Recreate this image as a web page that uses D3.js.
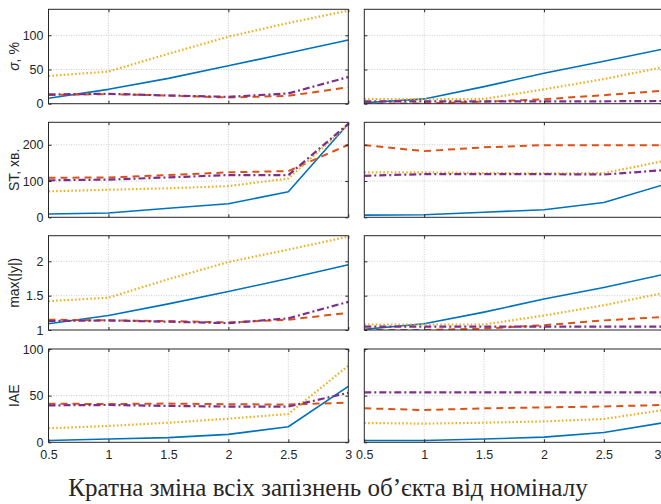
<!DOCTYPE html>
<html><head><meta charset="utf-8">
<script src="https://cdn.jsdelivr.net/npm/d3@7"></script>
<style>
html,body{margin:0;padding:0;background:#fff;overflow:hidden}
text{font-family:"Liberation Sans",Arial,sans-serif;fill:#262626}
</style></head>
<body><svg id="c" width="661" height="504"></svg>
<script>
// ---- data ----
const xVals = [0.5, 1, 1.5, 2, 2.5, 3];
const xTicksTop = [1, 2, 3];
const xTicksBottom = [0.5, 1, 1.5, 2, 2.5, 3];
const xTickLabels = ["0.5", "1", "1.5", "2", "2.5", "3"];
const seriesNames = ["blue", "orange", "yellow", "purple"];

// row 1: sigma, %
const sigmaL_blue   = [8, 21, 37, 55.5, 74, 93];
const sigmaL_orange = [12.7, 14, 12, 9, 11.5, 24];
const sigmaL_yellow = [40.5, 47, 73, 98, 118, 136];
const sigmaL_purple = [13.5, 14.5, 12, 10, 15, 39];
const sigmaR_blue   = [1.5, 7, 25, 44.5, 62, 80];
const sigmaR_orange = [0, 0.5, 3, 6.5, 12.5, 19];
const sigmaR_yellow = [7, 6.5, 7, 21, 36, 53.5];
const sigmaR_purple = [3.5, 3.5, 3.5, 3.5, 3.5, 4];
const sigmaTicks = [0, 50, 100];

// row 2: ST, min
const stL_blue   = [9, 12, 25, 37.5, 70.5, 258];
const stL_orange = [109, 110, 116.5, 124, 127.5, 200];
const stL_yellow = [71.5, 76, 80, 86, 107, 255];
const stL_purple = [102, 104, 110, 116.5, 116, 258];
const stR_blue   = [6, 7, 14, 21, 41, 90];
const stR_orange = [199, 182.5, 193, 199, 199, 199];
const stR_yellow = [124, 124, 122, 121, 122, 155];
const stR_purple = [114.5, 119, 119, 119, 118, 130];
const stTicks = [0, 100, 200];

// row 3: max(|y|)
const maxL_blue   = [1.09, 1.21, 1.38, 1.56, 1.75, 1.95];
const maxL_orange = [1.15, 1.14, 1.13, 1.11, 1.15, 1.25];
const maxL_yellow = [1.42, 1.47, 1.74, 1.99, 2.17, 2.36];
const maxL_purple = [1.13, 1.14, 1.12, 1.10, 1.17, 1.41];
const maxR_blue   = [1.01, 1.09, 1.26, 1.45, 1.62, 1.81];
const maxR_orange = [1.0, 1.0, 1.02, 1.07, 1.14, 1.19];
const maxR_yellow = [1.08, 1.08, 1.08, 1.21, 1.36, 1.54];
const maxR_purple = [1.05, 1.05, 1.05, 1.05, 1.05, 1.05];
const maxTicks = [1, 1.5, 2];

// row 4: IAE
const iaeL_blue   = [2, 3.5, 5, 8.5, 16.7, 60];
const iaeL_orange = [41.4, 41, 41.5, 40.8, 40.5, 42.5];
const iaeL_yellow = [15, 17.5, 21, 25.3, 30.3, 82];
const iaeL_purple = [39.6, 40, 39, 38.3, 38.3, 53];
const iaeR_blue   = [2, 2, 3.5, 5.5, 10.5, 21];
const iaeR_orange = [36.4, 34.6, 36.4, 37.4, 38.4, 40];
const iaeR_yellow = [20.7, 20, 21, 22.4, 25, 34.6];
const iaeR_purple = [53.6, 53.6, 53.6, 53.6, 53.6, 53.6];
const iaeTicks = [0, 50, 100];

const rowLabels = ["σ, %", "ST, хв.", "max(|y|)", "IAE"];
const xAxisTitle = "Кратна зміна всіх запізнень об’єкта від номіналу";

// ---- layout & styles ----
const styles = {
  blue:   {color: "#0072BD", width: 1.6, dash: null},
  orange: {color: "#D95319", width: 2.0, dash: "7,5"},
  yellow: {color: "#EDB120", width: 2.2, dash: "1.6,2.2"},
  purple: {color: "#7E2F8E", width: 2.2, dash: "7,3,2,3"}
};
const rows = [
  {label: rowLabels[0], dom: [0, 138], y: [103.7, 9.3], ticks: sigmaTicks, fmt: d3.format("d"),
   L: [sigmaL_blue, sigmaL_orange, sigmaL_yellow, sigmaL_purple],
   R: [sigmaR_blue, sigmaR_orange, sigmaR_yellow, sigmaR_purple]},
  {label: rowLabels[1], dom: [0, 262], y: [217.3, 122.3], ticks: stTicks, fmt: d3.format("d"),
   L: [stL_blue, stL_orange, stL_yellow, stL_purple],
   R: [stR_blue, stR_orange, stR_yellow, stR_purple]},
  {label: rowLabels[2], dom: [1, 2.373], y: [330, 235.7], ticks: maxTicks, fmt: d => String(d),
   L: [maxL_blue, maxL_orange, maxL_yellow, maxL_purple],
   R: [maxR_blue, maxR_orange, maxR_yellow, maxR_purple]},
  {label: rowLabels[3], dom: [0, 100], y: [442.3, 349], ticks: iaeTicks, fmt: d3.format("d"),
   L: [iaeL_blue, iaeL_orange, iaeL_yellow, iaeL_purple],
   R: [iaeR_blue, iaeR_orange, iaeR_yellow, iaeR_purple]}
];
const cols = [[48.5, 348.3], [364.3, 663.7]];

const svg = d3.select("#c");
const axisColor = "#262626";

rows.forEach((row, ri) => {
  const y = d3.scaleLinear().domain(row.dom).range(row.y);
  const isBottom = ri === rows.length - 1;
  const xt = isBottom ? xTicksBottom : xTicksTop;
  cols.forEach((cr, ci) => {
    const x = d3.scaleLinear().domain([0.5, 3]).range(cr);
    const g = svg.append("g");
    const clipId = `clip${ri}_${ci}`;
    svg.append("clipPath").attr("id", clipId).append("rect")
      .attr("x", cr[0]).attr("y", row.y[1]).attr("width", cr[1] - cr[0]).attr("height", row.y[0] - row.y[1]);
    // grid
    const grid = g.append("g").attr("stroke", "#bdbdbd").attr("stroke-width", 0.8).attr("stroke-dasharray", "1,1.5");
    xt.filter(v => v > 0.5 && v < 3).forEach(v => {
      grid.append("line").attr("x1", x(v)).attr("x2", x(v)).attr("y1", row.y[0]).attr("y2", row.y[1]);
    });
    row.ticks.filter(v => v > row.dom[0] && v < row.dom[1]).forEach(v => {
      grid.append("line").attr("x1", cr[0]).attr("x2", cr[1]).attr("y1", y(v)).attr("y2", y(v));
    });
    // lines
    const lg = g.append("g").attr("clip-path", `url(#${clipId})`);
    const series = ci === 0 ? row.L : row.R;
    series.forEach((vals, si) => {
      const st = styles[seriesNames[si]];
      const line = d3.line().x((d, i) => x(xVals[i])).y(d => y(d));
      lg.append("path").datum(vals).attr("d", line)
        .attr("fill", "none").attr("stroke", st.color).attr("stroke-width", st.width)
        .attr("stroke-linejoin", "round")
        .attr("stroke-dasharray", st.dash);
    });
    // axes (ticks inward)
    const yAxis = d3.axisLeft(y).tickValues(row.ticks).tickSize(-3).tickPadding(5)
      .tickFormat(ci === 0 ? row.fmt : () => "");
    const ya = g.append("g").attr("transform", `translate(${cr[0]},0)`).call(yAxis);
    const yr = g.append("g").attr("transform", `translate(${cr[1]},0)`).call(d3.axisRight(y).tickValues(row.ticks).tickSize(-3).tickFormat(() => ""));
    const xAxis = d3.axisBottom(x).tickValues(xt).tickSize(-3).tickPadding(8)
      .tickFormat(isBottom ? (d => xTickLabels[xTicksBottom.indexOf(d)]) : () => "");
    const xa = g.append("g").attr("transform", `translate(0,${row.y[0]})`).call(xAxis);
    const xtop = g.append("g").attr("transform", `translate(0,${row.y[1]})`).call(d3.axisTop(x).tickValues(xt).tickSize(-3).tickFormat(() => ""));
    [ya, yr, xa, xtop].forEach(a => {
      a.selectAll(".tick line").attr("stroke", axisColor);
      a.selectAll("text").attr("font-size", 12.5).attr("fill", axisColor)
        .style("font-family", '"Liberation Sans", Arial, sans-serif');
    });
    if (isBottom && ci === 1) {
      // the last label sits at the window edge: keep it inside
      xa.selectAll(".tick").filter(d => d === 3).select("text")
        .attr("text-anchor", "end").attr("dx", -(cr[1] - 661));
    }
    [ya, yr, xa, xtop].forEach(a => a.select("path.domain").remove());
    g.append("rect").attr("x", cr[0]).attr("y", row.y[1]).attr("width", cr[1] - cr[0]).attr("height", row.y[0] - row.y[1])
      .attr("fill", "none").attr("stroke", axisColor).attr("stroke-width", 1);
  });
  // row label
  const cy = (row.y[0] + row.y[1]) / 2;
  const t = svg.append("text").attr("transform", `translate(19,${cy}) rotate(-90)`)
    .attr("text-anchor", "middle").attr("font-size", 14);
  if (ri === 0) {
    t.append("tspan").attr("font-style", "italic").text(row.label[0]);
    t.append("tspan").text(row.label.slice(1));
  } else t.text(row.label);
});

svg.append("text").attr("x", 328).attr("y", 496).attr("text-anchor", "middle")
  .style("font-family", '"Liberation Serif","Times New Roman",serif')
  .attr("font-size", 25).attr("fill", "#000").text(xAxisTitle);
</script></body></html>
